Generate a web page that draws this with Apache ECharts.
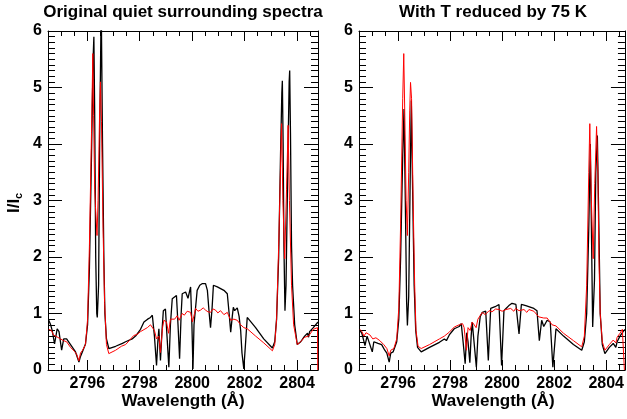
<!DOCTYPE html>
<html><head><meta charset="utf-8">
<script src="https://cdn.jsdelivr.net/npm/echarts@6/dist/echarts.min.js"></script>
<style>html,body{margin:0;padding:0;background:#fff}#c{width:627px;height:419px}</style>
</head><body><div id="c"></div>
<script>
// ---------- Titles / labels ----------
const panelTitles = ['Original quiet surrounding spectra', 'With T reduced by 75 K'];
const xAxisTitle = 'Wavelength (Å)';
const majorTicksX = [2796, 2798, 2800, 2802, 2804];
const minorTicksX = [2795, 2795.5, 2796.5, 2797, 2797.5, 2798.5, 2799, 2799.5, 2800.5, 2801, 2801.5, 2802.5, 2803, 2803.5, 2804.5];
const yTickLabels = [0, 1, 2, 3, 4, 5, 6];

// ---------- Left panel: original (black) ----------
const wlOrigBlack = [2794.53,2794.60,2794.66,2794.75,2794.85,2794.92,2795.02,2795.10,2795.21,2795.36,2795.55,2795.68,2795.74,2795.81,2795.93,2796.01,2796.08,2796.16,2796.22,2796.25,2796.28,2796.32,2796.36,2796.38,2796.43,2796.47,2796.53,2796.58,2796.63,2796.67,2796.73,2796.82,2797.08,2797.34,2797.46,2797.71,2797.76,2797.84,2798.03,2798.16,2798.30,2798.41,2798.48,2798.56,2798.64,2798.69,2798.73,2798.79,2798.85,2798.90,2798.98,2799.04,2799.11,2799.17,2799.24,2799.40,2799.46,2799.52,2799.58,2799.62,2799.75,2799.84,2799.94,2799.99,2800.03,2800.07,2800.19,2800.29,2800.39,2800.51,2800.58,2800.65,2800.70,2800.76,2800.81,2800.96,2801.21,2801.34,2801.41,2801.47,2801.53,2801.57,2801.62,2801.72,2801.79,2801.85,2801.90,2801.97,2802.04,2802.10,2802.42,2802.73,2803.06,2803.15,2803.22,2803.30,2803.37,2803.42,2803.44,2803.47,2803.50,2803.54,2803.58,2803.66,2803.70,2803.72,2803.75,2803.79,2803.83,2803.91,2804.01,2804.14,2804.29,2804.40,2804.44,2804.48,2804.62,2804.80];
const valOrigBlack = [0.88,0.80,0.70,0.46,0.73,0.68,0.35,0.55,0.55,0.45,0.32,0.14,0.24,0.32,0.46,0.8,1.8,3.8,5.5,5.9,4.6,2.0,1.0,0.93,1.5,4.0,6.5,4.0,2.0,1.0,0.55,0.38,0.42,0.47,0.50,0.55,0.52,0.60,0.72,0.85,0.90,0.93,0.97,0.6,0.08,0.5,0.73,0.17,0.7,1.05,1.08,0.6,0.05,0.8,1.26,1.32,0.8,0.2,1.0,1.35,1.38,1.27,1.47,0.8,0.02,0.8,1.41,1.50,1.53,1.53,1.41,1.0,0.75,1.1,1.5,1.47,1.41,1.35,1.0,0.67,0.95,1.11,1.05,1.10,0.95,0.7,0.3,0.02,0.5,0.93,0.75,0.55,0.39,0.5,0.9,2.0,3.8,4.9,5.12,4.0,2.2,1.05,1.5,4.0,5.1,5.3,4.2,2.2,1.5,0.8,0.45,0.5,0.6,0.65,0.58,0.68,0.75,0.85];

// ---------- Left panel: original (red) ----------
const wlOrigRed = [2794.53,2794.63,2794.71,2794.79,2794.86,2794.98,2795.09,2795.21,2795.36,2795.51,2795.59,2795.68,2795.74,2795.82,2795.93,2796.01,2796.08,2796.16,2796.21,2796.24,2796.28,2796.31,2796.37,2796.41,2796.47,2796.50,2796.54,2796.60,2796.66,2796.73,2796.82,2797.08,2797.30,2797.46,2797.60,2797.77,2797.90,2798.03,2798.29,2798.41,2798.48,2798.56,2798.64,2798.73,2798.79,2798.87,2798.92,2799.02,2799.10,2799.17,2799.24,2799.33,2799.43,2799.50,2799.62,2799.70,2799.81,2799.94,2800.01,2800.09,2800.13,2800.22,2800.32,2800.42,2800.51,2800.60,2800.70,2800.80,2800.89,2800.98,2801.08,2801.21,2801.34,2801.47,2801.59,2801.72,2801.85,2801.97,2802.10,2802.42,2802.73,2803.06,2803.15,2803.22,2803.30,2803.41,2803.46,2803.53,2803.60,2803.66,2803.71,2803.79,2803.87,2804.01,2804.14,2804.29,2804.44,2804.62,2804.78,2804.79];
const valOrigRed = [0.72,0.70,0.62,0.60,0.63,0.55,0.52,0.50,0.40,0.33,0.28,0.16,0.30,0.35,0.45,0.9,2.2,4.2,5.6,4.5,3.2,2.9,2.38,3.0,4.6,5.1,4.4,2.5,1.2,0.45,0.29,0.35,0.42,0.45,0.52,0.61,0.63,0.68,0.75,0.80,0.82,0.70,0.55,0.60,0.31,0.75,0.88,0.85,0.65,0.90,0.93,0.90,0.96,0.88,1.0,0.97,1.04,1.02,0.85,1.0,1.09,1.04,1.06,1.10,1.06,1.03,1.02,1.08,1.06,1.01,1.05,0.98,1.02,0.88,0.90,0.88,0.80,0.75,0.73,0.60,0.48,0.34,0.45,0.9,2.2,4.36,3.0,1.97,3.2,4.33,3.0,1.5,0.8,0.45,0.5,0.58,0.6,0.72,0.75,0];

// ---------- Right panel: T reduced (black) ----------
const wlCoolBlack = [2794.54,2794.61,2794.73,2794.81,2794.88,2795.01,2795.07,2795.23,2795.37,2795.49,2795.57,2795.66,2795.72,2795.81,2795.95,2796.03,2796.10,2796.18,2796.23,2796.28,2796.33,2796.36,2796.41,2796.47,2796.51,2796.56,2796.62,2796.68,2796.75,2796.89,2797.21,2797.59,2797.78,2797.86,2797.97,2798.16,2798.35,2798.43,2798.50,2798.58,2798.64,2798.69,2798.76,2798.81,2798.85,2798.92,2799.01,2799.07,2799.16,2799.24,2799.37,2799.47,2799.56,2799.73,2799.88,2799.98,2800.07,2800.15,2800.26,2800.38,2800.53,2800.65,2800.74,2800.91,2801.22,2801.34,2801.43,2801.52,2801.60,2801.73,2801.85,2801.95,2802.07,2802.36,2802.74,2803.06,2803.16,2803.25,2803.33,2803.39,2803.44,2803.48,2803.55,2803.60,2803.66,2803.72,2803.77,2803.85,2803.95,2804.12,2804.27,2804.37,2804.42,2804.53,2804.65,2804.72];
const valCoolBlack = [0.70,0.65,0.43,0.60,0.58,0.32,0.50,0.47,0.45,0.35,0.30,0.14,0.30,0.32,0.50,0.9,2.0,3.8,4.62,3.0,1.2,0.79,1.3,3.5,4.77,3.2,1.5,0.7,0.4,0.32,0.40,0.49,0.55,0.52,0.62,0.73,0.77,0.82,0.5,0.11,0.66,0.5,0.13,0.6,0.85,0.88,0.05,0.6,0.95,1.02,1.04,0.17,1.09,1.12,1.16,0.08,1.05,1.09,1.14,1.18,1.16,0.64,1.16,1.14,1.09,1.05,0.52,0.88,0.77,0.88,0.85,0.05,0.73,0.6,0.45,0.35,0.5,1.0,2.5,4.0,2.2,0.76,1.6,3.5,4.15,2.5,1.0,0.45,0.29,0.40,0.47,0.40,0.50,0.60,0.68,0.72];

// ---------- Right panel: T reduced (red) ----------
const wlCoolRed = [2794.54,2794.61,2794.69,2794.77,2794.92,2795.03,2795.15,2795.30,2795.45,2795.57,2795.66,2795.72,2795.84,2795.95,2796.03,2796.10,2796.18,2796.22,2796.26,2796.31,2796.36,2796.41,2796.45,2796.48,2796.52,2796.58,2796.64,2796.69,2796.77,2796.89,2797.21,2797.59,2797.78,2797.97,2798.16,2798.35,2798.48,2798.54,2798.63,2798.69,2798.77,2798.85,2798.92,2799.00,2799.07,2799.24,2799.35,2799.50,2799.61,2799.75,2799.88,2800.00,2800.15,2800.33,2800.45,2800.52,2800.65,2800.84,2800.95,2801.03,2801.22,2801.41,2801.60,2801.73,2801.92,2802.07,2802.36,2802.74,2803.06,2803.16,2803.25,2803.33,2803.37,2803.43,2803.50,2803.56,2803.63,2803.68,2803.72,2803.77,2803.85,2803.95,2804.12,2804.27,2804.37,2804.42,2804.53,2804.62,2804.69,2804.70];
const valCoolRed = [0.72,0.68,0.60,0.66,0.62,0.55,0.57,0.52,0.45,0.38,0.25,0.35,0.38,0.55,1.1,2.6,4.8,5.6,4.5,3.0,2.38,3.5,4.6,5.09,4.8,3.0,1.5,0.7,0.42,0.38,0.45,0.55,0.60,0.67,0.76,0.80,0.82,0.75,0.35,0.75,0.70,0.85,0.86,0.75,0.90,1.02,0.98,1.05,1.03,1.08,1.07,1.04,1.07,1.09,1.04,1.09,1.05,1.07,1.02,1.07,1.04,0.94,0.92,0.92,0.80,0.78,0.65,0.52,0.41,0.6,1.5,3.5,4.36,3.0,1.97,3.3,4.31,3.5,2.0,1.0,0.5,0.35,0.45,0.53,0.48,0.58,0.65,0.72,0.72,0];

const pair = (w, v) => w.map((x, i) => [x, v[i]]);
const FONT = "'Liberation Sans', Arial, Helvetica, sans-serif";

const panels = [
  { left: 48, width: 270, xmax: 2804.8 },
  { left: 359, width: 268, xmax: 2804.72 }
];
const TOP = 31, HEIGHT = 339;

const grids = [], xAxes = [], yAxes = [], graphics = [];
panels.forEach((p, g) => {
  grids.push({ left: p.left, top: TOP, width: p.width, height: HEIGHT, containLabel: false });
  const baseX = { type: 'value', gridIndex: g, min: 2794.5, max: p.xmax, splitLine: { show: false } };
  xAxes.push(Object.assign({}, baseX, {
    position: 'bottom',
    axisLine: { show: true, onZero: false, lineStyle: { color: '#000', width: 1 } },
    axisTick: { show: true, inside: true, length: 10, customValues: majorTicksX, lineStyle: { color: '#000' } },
    axisLabel: { show: true, customValues: majorTicksX, margin: 6, color: '#000', fontSize: 16, fontWeight: 'bold', fontFamily: FONT, formatter: v => String(v) }
  }));
  xAxes.push(Object.assign({}, baseX, {
    position: 'bottom',
    axisLine: { show: false, onZero: false },
    axisTick: { show: true, inside: true, length: 5, customValues: minorTicksX, lineStyle: { color: '#000' } },
    axisLabel: { show: false }
  }));
  xAxes.push(Object.assign({}, baseX, {
    position: 'top',
    axisLine: { show: true, onZero: false, lineStyle: { color: '#000', width: 1 } },
    axisTick: { show: true, inside: true, length: 10, customValues: majorTicksX, lineStyle: { color: '#000' } },
    axisLabel: { show: false }
  }));
  xAxes.push(Object.assign({}, baseX, {
    position: 'top',
    axisLine: { show: false, onZero: false },
    axisTick: { show: true, inside: true, length: 5, customValues: minorTicksX, lineStyle: { color: '#000' } },
    axisLabel: { show: false }
  }));
  const baseY = {
    type: 'value', gridIndex: g, min: 0, max: 6, interval: 1,
    splitLine: { show: false },
    axisLine: { show: true, onZero: false, lineStyle: { color: '#000', width: 1 } },
    axisTick: { show: true, inside: true, length: 14, lineStyle: { color: '#000' } },
    minorTick: { show: true, splitNumber: 10, length: 7, lineStyle: { color: '#000' } },
    minorSplitLine: { show: false }
  };
  yAxes.push(Object.assign({}, baseY, {
    position: 'left',
    axisLabel: { show: true, customValues: yTickLabels, margin: 6, color: '#000', fontSize: 16, fontWeight: 'bold', fontFamily: FONT }
  }));
  yAxes.push(Object.assign({}, baseY, { position: 'right', axisLabel: { show: false } }));

  const cx = p.left + p.width / 2;
  graphics.push({ type: 'text', x: cx, y: 12, silent: true,
    style: { text: panelTitles[g], font: 'bold 17px ' + FONT, fill: '#000', textAlign: 'center', textVerticalAlign: 'middle' } });
  graphics.push({ type: 'text', x: cx, y: 401, silent: true,
    style: { text: xAxisTitle, font: 'bold 17px ' + FONT, fill: '#000', textAlign: 'center', textVerticalAlign: 'middle' } });
});

graphics.push({ type: 'text', x: 14, y: 213, rotation: Math.PI / 2, silent: true,
  style: { text: 'I/I', font: 'bold 17px ' + FONT, fill: '#000', textAlign: 'left', textVerticalAlign: 'middle' } });
graphics.push({ type: 'text', x: 19, y: 199, rotation: Math.PI / 2, silent: true,
  style: { text: 'c', font: 'bold 11px ' + FONT, fill: '#000', textAlign: 'left', textVerticalAlign: 'middle' } });

const lineSeries = (data, xi, yi, color, w, z) => ({
  type: 'line', data, xAxisIndex: xi, yAxisIndex: yi, showSymbol: false, symbol: 'none',
  lineStyle: { color, width: w }, itemStyle: { color }, clip: true, z, animation: false
});

const chart = echarts.init(document.getElementById('c'), null, { renderer: 'canvas' });
chart.setOption({
  animation: false,
  backgroundColor: '#fff',
  grid: grids,
  xAxis: xAxes,
  yAxis: yAxes,
  graphic: graphics,
  series: [
    lineSeries(pair(wlOrigBlack, valOrigBlack), 0, 0, '#000', 1.3, 2),
    lineSeries(pair(wlOrigRed, valOrigRed), 0, 0, '#ff0000', 1, 3),
    lineSeries(pair(wlCoolBlack, valCoolBlack), 4, 2, '#000', 1.3, 2),
    lineSeries(pair(wlCoolRed, valCoolRed), 4, 2, '#ff0000', 1, 3)
  ]
});
</script>
</body></html>
